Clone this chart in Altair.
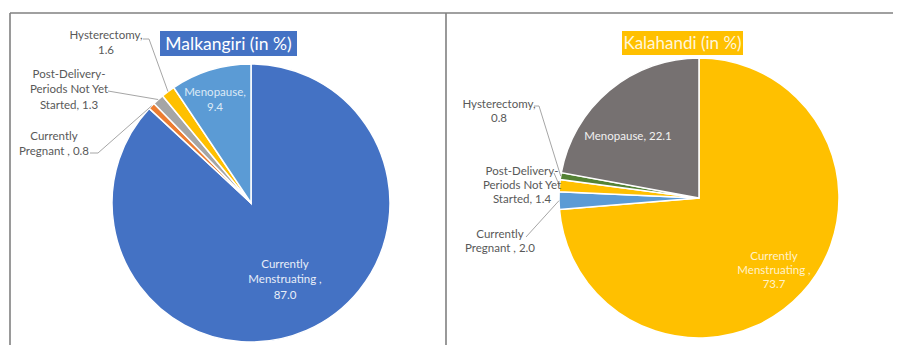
import altair as alt
import numpy as np
import pandas as pd

# ---------------- data ----------------
categories = ["Currently Menstruating", "Currently Pregnant",
              "Post-Delivery-Periods Not Yet Started", "Hysterectomy", "Menopause"]
malkangiri_pct = [87.0, 0.8, 1.3, 1.6, 9.4]
kalahandi_pct = [73.7, 2.0, 1.4, 0.8, 22.1]
panel_titles = ["Malkangiri (in %)", "Kalahandi (in %)"]

# label text templates ({v} is filled with the slice value)
malkangiri_label_lines = [["Currently", "Menstruating ,", "{v}"],
                          ["Currently", "Pregnant , {v}"],
                          ["Post-Delivery-", "Periods Not Yet", "Started, {v}"],
                          ["Hysterectomy,", "{v}"],
                          ["Menopause,", "{v}"]]
kalahandi_label_lines = [["Currently", "Menstruating ,", "{v}"],
                         ["Currently", "Pregnant , {v}"],
                         ["Post-Delivery-", "Periods Not Yet", "Started, {v}"],
                         ["Hysterectomy,", "{v}"],
                         ["Menopause, {v}"]]

# ---------------- styles ----------------
malkangiri_colors = ["#4472C4", "#ED7D31", "#A5A5A5", "#FFC000", "#5B9BD5"]
kalahandi_colors = ["#FFC000", "#5B9BD5", "#FFC000", "#548235", "#767171"]
malkangiri_inside_text = ["#E8EEF8", None, None, None, "#DDEAF6"]
kalahandi_inside_text = ["#FFF2CC", None, None, None, "#F2F2F2"]
title_fill = ["#4472C4", "#FFC000"]
title_text = ["#FFFFFF", "#FFF6DA"]
title_size = [17.5, 17]
OUT_TEXT = "#595959"
LEADER = "#A6A6A6"
FONT = "Lato"

# ---------------- layout (page pixels; chart = page - 8) ----------------
OFF = 8
W, H = 885, 337
L_CENTER, L_R = (251, 203), 139
R_CENTER, R_R = (699, 198), 140
L_label_pos = [(285, 265), (54, 137), (69, 75), (106, 36), (215, 93)]
R_label_pos = [(774, 257), (500, 235), (522, 172), (499, 105), (628, 137)]
L_line_h, R_line_h = 15.3, 14.0
L_leader_start = [None, [(90, 153), (98, 153)], [(108, 91)], [(143, 39), (149, 39)], None]
R_leader_start = [None, [(526, 237)], [(554, 173)], [(534, 106), (539, 106)], None]
title_boxes = [(160, 297, 31, 56), (622, 743, 31, 55)]


def pie(values, colors, center, r):
    df = pd.DataFrame({"category": categories, "value": values, "idx": list(range(len(values)))})
    return alt.Chart(df).mark_arc(radius=r, stroke="white", strokeWidth=1.5).encode(
        theta=alt.Theta("value:Q", stack=True),
        order=alt.Order("idx:Q"),
        color=alt.Color("category:N", scale=alt.Scale(domain=categories, range=colors), legend=None),
        x=alt.value(center[0] - OFF),
        y=alt.value(center[1] - OFF),
    )


def edge_points(values, center, r):
    v = np.array(values, dtype=float)
    c = np.cumsum(v)
    mid = (c - v / 2) / c[-1] * 2 * np.pi
    return [(center[0] + r * np.sin(a), center[1] - r * np.cos(a)) for a in mid]


def labels(values, templates, inside, pos, lh, key):
    rows = []
    for i, (v, lines) in enumerate(zip(values, templates)):
        col = inside[i] if inside[i] else OUT_TEXT
        for j, ln in enumerate(lines):
            rows.append({"key": f"{key}{i}{j}", "t": ln.format(v=f"{v:.1f}"),
                         "px": pos[i][0] - OFF, "py": pos[i][1] + j * lh - OFF, "c": col})
    df = pd.DataFrame(rows)
    return alt.Chart(df).mark_text(font=FONT, fontSize=11.5, align="center", baseline="middle").encode(
        x=alt.X("px:Q", scale=None), y=alt.Y("py:Q", scale=None),
        text="t:N", color=alt.Color("c:N", scale=None))


def leaders(values, center, r, starts, key):
    edges = edge_points(values, center, r)
    rows = []
    for i, st in enumerate(starts):
        if not st:
            continue
        pts = list(st) + [edges[i]]
        for s, (x, y) in enumerate(pts):
            rows.append({"k": f"{key}{i}", "s": s, "px": x - OFF, "py": y - OFF})
    df = pd.DataFrame(rows)
    return alt.Chart(df).mark_line(color=LEADER, strokeWidth=1).encode(
        x=alt.X("px:Q", scale=None), y=alt.Y("py:Q", scale=None),
        detail="k:N", order="s:Q")


def title_box(i):
    x0, x1, y0, y1 = title_boxes[i]
    df = pd.DataFrame({"t": [panel_titles[i]]})
    box = alt.Chart(df).mark_rect(color=title_fill[i]).encode(
        x=alt.value(x0 - OFF), x2=alt.value(x1 - OFF), y=alt.value(y0 - OFF), y2=alt.value(y1 - OFF))
    txt = alt.Chart(df).mark_text(font=FONT, fontSize=title_size[i], color=title_text[i],
                                  align="center", baseline="middle").encode(
        text="t:N", x=alt.value((x0 + x1) / 2 - OFF), y=alt.value((y0 + y1) / 2 - OFF + 1))
    return box + txt


one = pd.DataFrame({"a": [0]})
border = alt.Chart(one).mark_rule(color="#808080", strokeWidth=1.6)
frame = [
    border.encode(x=alt.value(10 - OFF), x2=alt.value(W), y=alt.value(13 - OFF), y2=alt.value(13 - OFF)),
    border.encode(x=alt.value(10 - OFF), x2=alt.value(10 - OFF), y=alt.value(13 - OFF), y2=alt.value(H)),
    border.encode(x=alt.value(446 - OFF), x2=alt.value(446 - OFF), y=alt.value(13 - OFF), y2=alt.value(H)),
]

chart = alt.layer(
    *frame,
    pie(malkangiri_pct, malkangiri_colors, L_CENTER, L_R),
    pie(kalahandi_pct, kalahandi_colors, R_CENTER, R_R),
    leaders(malkangiri_pct, L_CENTER, L_R, L_leader_start, "L"),
    leaders(kalahandi_pct, R_CENTER, R_R, R_leader_start, "R"),
    labels(malkangiri_pct, malkangiri_label_lines, malkangiri_inside_text, L_label_pos, L_line_h, "L"),
    labels(kalahandi_pct, kalahandi_label_lines, kalahandi_inside_text, R_label_pos, R_line_h, "R"),
    title_box(0),
    title_box(1),
).resolve_scale(theta="independent", color="independent").properties(
    width=W, height=H, padding=0, autosize=alt.AutoSizeParams(type="none"),
    background="white",
).configure_view(stroke=None)

chart.save("out.html", embed_options={"renderer": "svg", "actions": False})
